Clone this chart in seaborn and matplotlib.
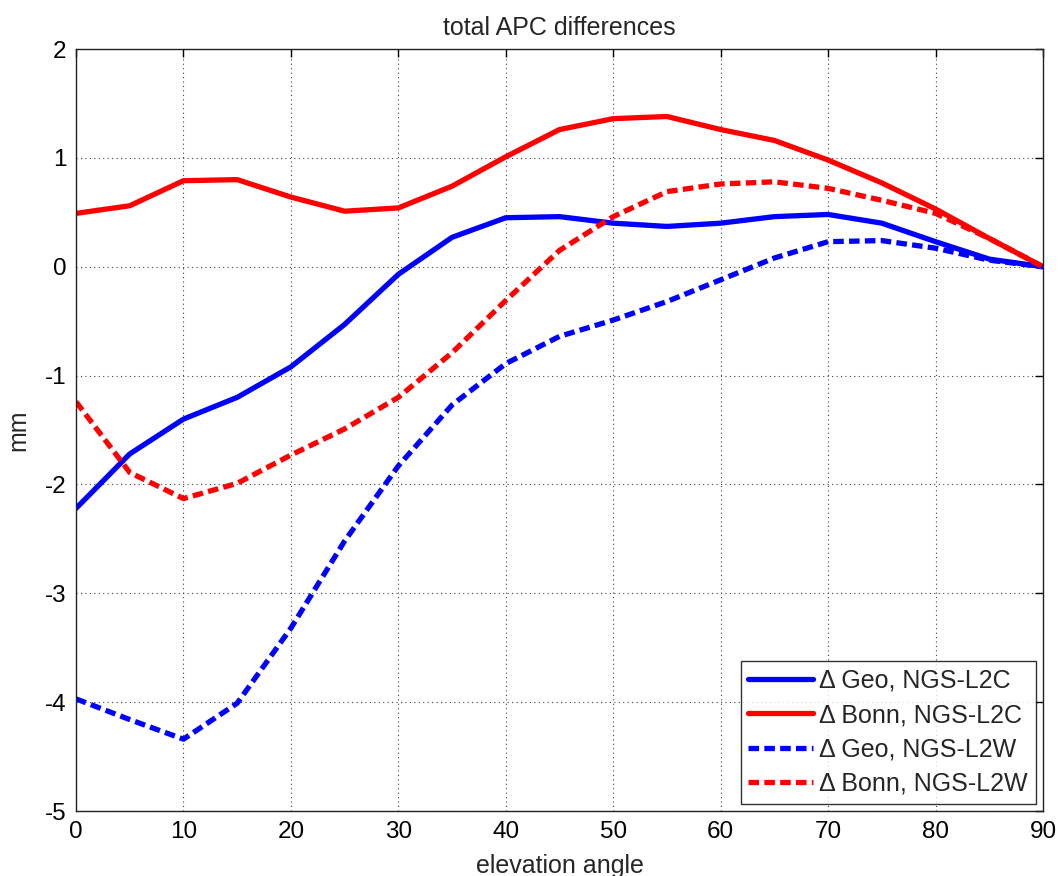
import numpy as np
import pandas as pd
import seaborn as sns
import matplotlib.pyplot as plt

elev = [0, 5, 10, 15, 20, 25, 30, 35, 40, 45, 50, 55, 60, 65, 70, 75, 80, 85, 90]

geo_l2c = [-2.22, -1.72, -1.40, -1.20, -0.92, -0.53, -0.07, 0.27, 0.45, 0.46, 0.40, 0.37, 0.40, 0.46, 0.48, 0.40, 0.23, 0.07, 0.0]
bonn_l2c = [0.49, 0.56, 0.79, 0.80, 0.64, 0.51, 0.54, 0.74, 1.01, 1.26, 1.36, 1.38, 1.26, 1.16, 0.98, 0.77, 0.53, 0.26, 0.0]
geo_l2w = [-3.97, -4.16, -4.34, -4.01, -3.32, -2.52, -1.83, -1.27, -0.89, -0.64, -0.49, -0.32, -0.12, 0.08, 0.23, 0.24, 0.17, 0.06, 0.0]
bonn_l2w = [-1.24, -1.89, -2.13, -1.99, -1.73, -1.49, -1.20, -0.79, -0.31, 0.15, 0.46, 0.69, 0.76, 0.78, 0.72, 0.61, 0.49, 0.26, 0.0]

labels = ["\u0394 Geo, NGS-L2C", "\u0394 Bonn, NGS-L2C",
          "\u0394 Geo, NGS-L2W", "\u0394 Bonn, NGS-L2W"]

sns.set_style("white")
plt.rcParams['font.family'] = ['Liberation Sans', 'DejaVu Sans']
plt.rcParams['axes.unicode_minus'] = False

fig = plt.figure(figsize=(10.59, 8.76), dpi=100)
ax = fig.add_axes([76/1059, 1 - 811/876, (1043-76)/1059, (811-49)/876])

series = [geo_l2c, bonn_l2c, geo_l2w, bonn_l2w]
colors = ['#0000ff', '#ff0000', '#0000ff', '#ff0000']
dashed = [False, False, True, True]
for vals, lab, c, d in zip(series, labels, colors, dashed):
    df = pd.DataFrame({'elevation': elev, 'mm': vals})
    ls = (0, (2, 1)) if d else '-'
    sns.lineplot(data=df, x='elevation', y='mm', ax=ax, color=c, linewidth=3.8,
                 linestyle=ls, label=lab)

for ln in ax.get_lines():
    ln.set_dash_capstyle('butt')

ax.set_xlim(0, 90)
ax.set_ylim(-5, 2)
ax.set_xticks(range(0, 91, 10))
ax.set_yticks(range(-5, 3))
ax.grid(True, color='#444444', linestyle=(0, (1, 3)), linewidth=0.8)
for s in ax.spines.values():
    s.set_color('#222222')
    s.set_linewidth(1.0)
ax.tick_params(direction='in', length=6, width=1, labelsize=17.5, top=True, right=True,
               colors='black', pad=7)

ax.set_title('total APC differences', fontsize=18, pad=10)
ax.set_xlabel('elevation angle', fontsize=18, labelpad=8)
ax.set_ylabel('mm', fontsize=18, labelpad=10)

leg = ax.legend(loc='lower right', fontsize=18, frameon=True, fancybox=False,
                edgecolor='black', handlelength=2.6, handletextpad=0.25,
                borderaxespad=0.3, labelspacing=0.42, borderpad=0.3)
leg.get_frame().set_linewidth(1.0)

fig.savefig('out.png', dpi=100)
